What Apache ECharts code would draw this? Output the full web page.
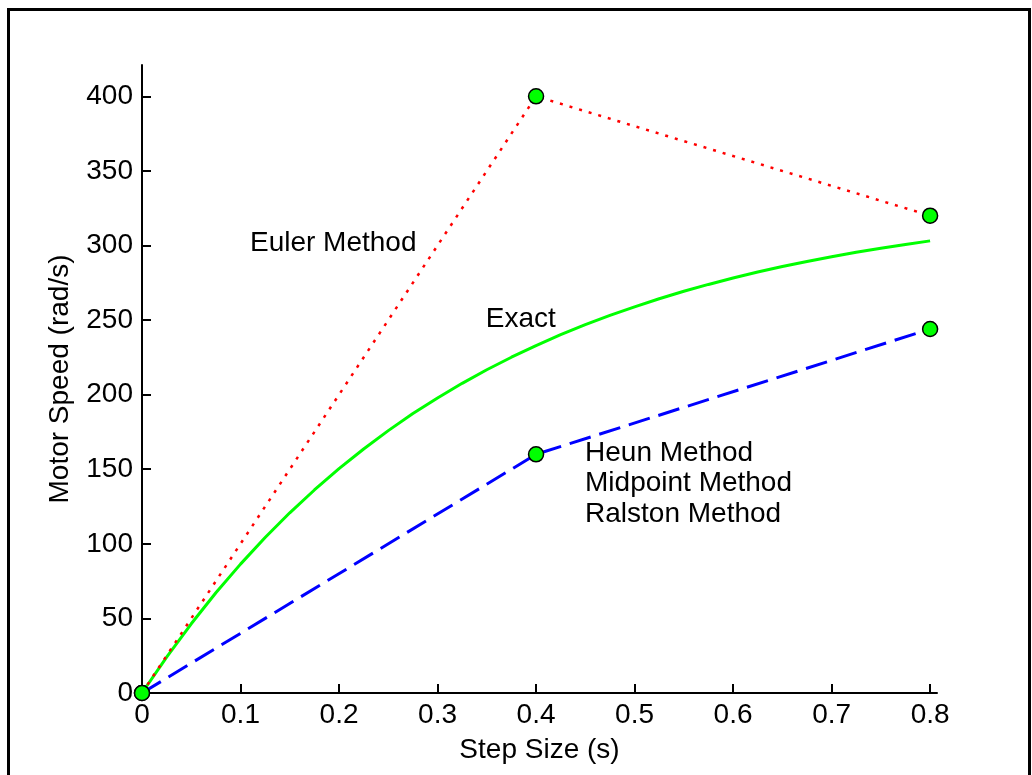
<html>
<head>
<meta charset="utf-8">
<title>Motor Speed vs Step Size</title>
<script src="https://cdn.jsdelivr.net/npm/echarts@6/dist/echarts.min.js"></script>
<style>
  html, body { margin: 0; padding: 0; background: #fff; }
  #main { width: 1032px; height: 775px; }
</style>
</head>
<body>
<div id="main"></div>
<script type="text/javascript">
    // step sizes where the numerical methods were evaluated
    var stepX = [0, 0.4, 0.8];
    var eulerY = [0, 400, 320];
    var heunY = [0, 160, 244];

    // exact solution
    var exactX = [0, 0.025, 0.05, 0.075, 0.1, 0.125, 0.15, 0.175, 0.2, 0.225, 0.25, 0.275, 0.3, 0.325,
        0.35, 0.375, 0.4, 0.425, 0.45, 0.475, 0.5, 0.525, 0.55, 0.575, 0.6, 0.625, 0.65, 0.675,
        0.7, 0.725, 0.75, 0.775, 0.8];
    var exactY = [0, 24.1, 46.4, 67.2, 86.4, 104.2, 120.8, 136.1, 150.4, 163.6, 175.9, 187.3, 197.8, 207.6,
        216.7, 225.1, 232.9, 240.2, 246.9, 253.2, 258.9, 264.3, 269.3, 273.9, 278.2, 282.2, 285.9, 289.3,
        292.5, 295.5, 298.2, 300.7, 303.1];

    var xTicks = [0, 0.1, 0.2, 0.3, 0.4, 0.5, 0.6, 0.7, 0.8];
    var yTicks = [0, 50, 100, 150, 200, 250, 300, 350, 400];

    // text annotations placed in data coordinates
    var noteText = ['Euler Method', 'Exact', 'Heun Method', 'Midpoint Method', 'Ralston Method'];
    var noteX = [0.1096, 0.349, 0.4497, 0.4497, 0.4497];
    var noteY = [301.3, 250.3, 161, 140.3, 120.1];

    function pairs(xs, ys) {
        var out = [];
        for (var i = 0; i < xs.length; i++) out.push([xs[i], ys[i]]);
        return out;
    }
    var notes = [];
    for (var i = 0; i < noteText.length; i++) {
        notes.push({ name: noteText[i], value: [noteX[i], noteY[i]] });
    }

    var font = 'Liberation Sans, Arial, sans-serif';
    var marker = {
        color: '#00ff00',
        borderColor: '#000',
        borderWidth: 1.5
    };

    var option = {
        animation: false,
        backgroundColor: '#fff',
        textStyle: { fontFamily: font },
        graphic: [{
            type: 'rect',
            left: 6,
            top: 7,
            shape: { width: 1021, height: 820 },
            style: { fill: 'none', stroke: '#000', lineWidth: 3 },
            silent: true
        }],
        grid: {
            left: 142,
            top: 65,
            width: 795,
            height: 628
        },
        xAxis: {
            type: 'value',
            min: 0,
            max: 0.807,
            name: 'Step Size (s)',
            nameLocation: 'middle',
            nameGap: 43,
            nameTextStyle: { color: '#000', fontSize: 28, fontFamily: font },
            axisLine: { show: true, onZero: false, lineStyle: { color: '#000', width: 2 } },
            axisTick: { show: true, inside: true, length: 9, customValues: xTicks, lineStyle: { color: '#000', width: 2 } },
            axisLabel: { color: '#000', fontSize: 28, fontFamily: font, margin: 8, customValues: xTicks },
            splitLine: { show: false }
        },
        yAxis: {
            type: 'value',
            min: 0,
            max: 421,
            name: 'Motor Speed (rad/s)',
            nameLocation: 'middle',
            nameGap: 68,
            nameTextStyle: { color: '#000', fontSize: 28, fontFamily: font },
            axisLine: { show: true, onZero: false, lineStyle: { color: '#000', width: 2 } },
            axisTick: { show: true, inside: true, length: 9, customValues: yTicks, lineStyle: { color: '#000', width: 2 } },
            axisLabel: { color: '#000', fontSize: 28, fontFamily: font, margin: 9, customValues: yTicks },
            splitLine: { show: false }
        },
        series: [
            {
                name: 'Exact',
                type: 'line',
                data: pairs(exactX, exactY),
                showSymbol: false,
                symbol: 'none',
                lineStyle: { color: '#00ff00', width: 3 },
                z: 2
            },
            {
                name: 'Euler Method',
                type: 'line',
                data: pairs(stepX, eulerY),
                symbol: 'circle',
                symbolSize: 15,
                itemStyle: marker,
                lineStyle: { color: '#ff0000', width: 2.5, type: [3, 7] },
                z: 3
            },
            {
                name: 'Heun Method',
                type: 'line',
                data: pairs(stepX, heunY),
                symbol: 'circle',
                symbolSize: 15,
                itemStyle: marker,
                lineStyle: { color: '#0000ff', width: 3, type: [22, 9] },
                z: 4
            },
            {
                name: 'notes',
                type: 'scatter',
                data: notes,
                symbolSize: 0,
                silent: true,
                itemStyle: { opacity: 1 },
                label: {
                    show: true,
                    position: 'right',
                    distance: 0,
                    formatter: '{b}',
                    color: '#000',
                    opacity: 1,
                    fontSize: 28,
                    fontFamily: font
                },
                z: 5
            }
        ]
    };

    var myChart = echarts.init(document.getElementById('main'));
    myChart.setOption(option);
</script>
</body>
</html>
